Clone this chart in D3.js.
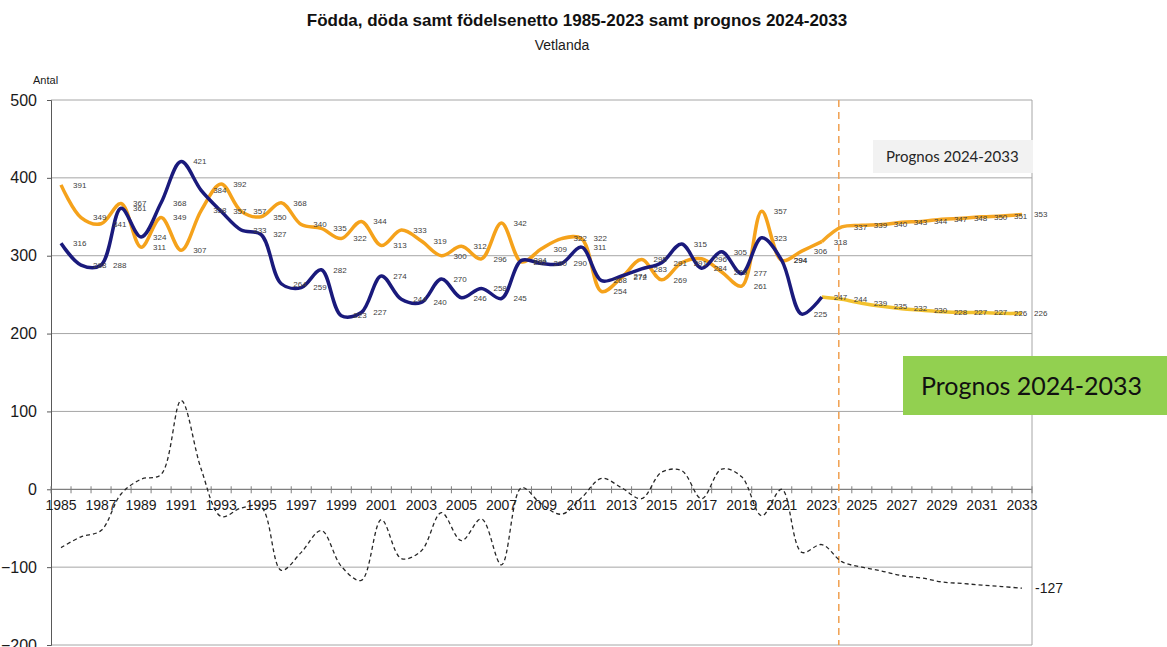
<!DOCTYPE html>
<html>
<head>
<meta charset="utf-8">
<script src="https://d3js.org/d3.v7.min.js"></script>
<style>
  html, body { margin: 0; padding: 0; background: #fff; }
  svg { display: block; }
</style>
</head>
<body>
<svg id="chart"></svg>
<script>
// Years on the x axis (1985-2033)
const years = d3.range(1985, 2034);
const histYears = d3.range(1985, 2024);
const progYears = d3.range(2023, 2034);

// Födda (births) 1985-2023
const fodda = [316, 288, 288, 361, 324, 368, 421, 384, 357, 333, 327, 264, 259, 282, 223, 227, 274, 244, 240, 270,
  246, 258, 245, 294, 290, 290, 311, 268, 274, 283, 291, 315, 284, 305, 277, 323, 294, 225, 247];
// Döda (deaths) 1985-2023
const doda = [391, 349, 341, 367, 311, 349, 307, 358, 392, 357, 350, 368, 340, 335, 322, 344, 313, 333, 319, 300,
  312, 296, 342, 292, 309, 322, 322, 254, 272, 295, 269, 291, 296, 279, 261, 357, 294, 306, 318];
// Prognos 2024-2033
const foddaProg = [244, 239, 235, 232, 230, 228, 227, 227, 226, 226];
const dodaProg = [337, 339, 340, 343, 344, 347, 348, 350, 351, 353];
// Födelsenetto 1985-2033
const netto = [-75, -61, -53, -6, 13, 19, 114, 26, -35, -24, -23, -104, -81, -53, -99, -117, -39, -89, -79, -30,
  -66, -38, -97, 2, -19, -32, -11, 14, 2, -12, 22, 24, -12, 26, 16, -34, 0, -81, -71,
  -93, -100, -105, -111, -114, -119, -121, -123, -125, -127];

const yTicks = [500, 400, 300, 200, 100, 0, -100, -200];

const width = 1167;
const height = 647;
const plot = { left: 51, right: 1032, top: 100, bottom: 645 };
const font = "Arial, 'Liberation Sans', sans-serif";

const svg = d3.select("#chart").attr("width", width).attr("height", height)
  .style("font-family", font);

/*
 * Scales
 */
const x = d3.scaleBand().domain(years).range([plot.left, plot.right]).padding(0);
const cx = (yr) => x(yr) + x.bandwidth() / 2;
const y = d3.scaleLinear().domain([-200, 500]).range([plot.bottom, plot.top]);

/*
 * Titles
 */
svg.append("text")
  .attr("x", 577).attr("y", 26)
  .attr("text-anchor", "middle")
  .style("font-size", "17px").style("font-weight", "bold")
  .attr("fill", "#111")
  .text("Födda, döda samt födelsenetto 1985-2023 samt prognos 2024-2033");

svg.append("text")
  .attr("x", 562).attr("y", 50)
  .attr("text-anchor", "middle")
  .style("font-size", "14px")
  .attr("fill", "#1a1a1a")
  .text("Vetlanda");

svg.append("text")
  .attr("x", 33).attr("y", 84)
  .style("font-size", "11px")
  .attr("fill", "#1a1a1a")
  .text("Antal");

/*
 * Grid + axes
 */
svg.append("g").selectAll("line")
  .data(yTicks)
  .enter().append("line")
  .attr("x1", plot.left).attr("x2", plot.right)
  .attr("y1", (d) => y(d)).attr("y2", (d) => y(d))
  .attr("stroke", (d) => d === 0 ? "#7f7f7f" : "#a6a6a6")
  .attr("stroke-width", (d) => d === 0 ? 1.3 : 1);

// right border
svg.append("line")
  .attr("x1", plot.right).attr("x2", plot.right)
  .attr("y1", plot.top).attr("y2", plot.bottom)
  .attr("stroke", "#a6a6a6");

const yAxis = svg.append("g")
  .attr("transform", `translate(${plot.left},0)`)
  .call(d3.axisLeft(y).tickValues(yTicks).tickSize(4).tickPadding(10).tickFormat(d3.format("d")));
yAxis.select(".domain").attr("stroke", "#595959");
yAxis.selectAll(".tick line").attr("stroke", "#595959");
yAxis.selectAll("text").style("font-size", "16px").style("font-family", font).attr("fill", "#1a1a1a");

// x axis on the zero line: year labels for odd years
const xAxis = svg.append("g")
  .attr("transform", `translate(0,${y(0)})`)
  .call(d3.axisBottom(x).tickValues(years.filter((d) => d % 2 === 1)).tickSize(0).tickPadding(11));
xAxis.select(".domain").remove();
xAxis.selectAll("text").style("font-size", "14px").style("font-family", font).attr("fill", "#1a1a1a");

// tick marks between the years
svg.append("g").selectAll("line")
  .data(years.concat([null]))
  .enter().append("line")
  .attr("x1", (d) => d === null ? plot.right : x(d))
  .attr("x2", (d) => d === null ? plot.right : x(d))
  .attr("y1", y(0) - 3).attr("y2", y(0) + 4)
  .attr("stroke", "#7f7f7f");

/*
 * Prognos marker
 */
svg.append("line")
  .attr("x1", cx(2024) - 3).attr("x2", cx(2024) - 3)
  .attr("y1", plot.top).attr("y2", plot.bottom)
  .attr("stroke", "#f0a050").attr("stroke-width", 1.5)
  .attr("stroke-dasharray", "7,5");

/*
 * Lines
 */
const line = d3.line()
  .x((d) => cx(d.year))
  .y((d) => y(d.value))
  .curve(d3.curveCatmullRom.alpha(0.5));

const zip = (yrs, vals) => yrs.map((yr, i) => ({ year: yr, value: vals[i] }));

const foddaData = zip(histYears, fodda);
const dodaData = zip(histYears, doda);
const foddaProgData = zip(progYears, [fodda[fodda.length - 1]].concat(foddaProg));
const dodaProgData = zip(progYears, [doda[doda.length - 1]].concat(dodaProg));
const nettoData = zip(years, netto);

svg.append("path").datum(nettoData)
  .attr("d", line).attr("fill", "none")
  .attr("stroke", "#262626").attr("stroke-width", 1.3)
  .attr("stroke-dasharray", "4,3");

svg.append("path").datum(dodaProgData)
  .attr("d", line).attr("fill", "none")
  .attr("stroke", "#f5a623").attr("stroke-width", 3.5);

svg.append("path").datum(foddaProgData)
  .attr("d", line).attr("fill", "none")
  .attr("stroke", "#f2c12e").attr("stroke-width", 3.5);

svg.append("path").datum(dodaData)
  .attr("d", line).attr("fill", "none")
  .attr("stroke", "#f5a21b").attr("stroke-width", 3.5);

svg.append("path").datum(foddaData)
  .attr("d", line).attr("fill", "none")
  .attr("stroke", "#1a1a7c").attr("stroke-width", 3.5);

/*
 * Data labels (to the right of each point)
 */
const labelData = dodaData.concat(foddaData, dodaProgData.slice(1), foddaProgData.slice(1));
svg.append("g").selectAll("text")
  .data(labelData)
  .enter().append("text")
  .attr("x", (d) => cx(d.year) + 12)
  .attr("y", (d) => y(d.value))
  .attr("dy", "0.35em")
  .style("font-size", "8px")
  .attr("fill", "#404040")
  .text((d) => d.value);

// last netto value
const lastNet = nettoData[nettoData.length - 1];
svg.append("text")
  .attr("x", cx(lastNet.year) + 13)
  .attr("y", y(lastNet.value))
  .attr("dy", "0.35em")
  .style("font-size", "14px")
  .attr("fill", "#1a1a1a")
  .text(lastNet.value);

/*
 * Boxes
 */
svg.append("rect")
  .attr("x", 873).attr("y", 140).attr("width", 160).attr("height", 33)
  .attr("fill", "#f2f2f2");
svg.append("text")
  .attr("x", 886).attr("y", 157).attr("dy", "0.35em")
  .style("font-family", "Lato, 'Open Sans', sans-serif").style("font-size", "15px")
  .attr("fill", "#262626")
  .text("Prognos 2024-2033");

svg.append("rect")
  .attr("x", 903).attr("y", 356).attr("width", 264).attr("height", 59)
  .attr("fill", "#92d050");
svg.append("text")
  .attr("x", 921).attr("y", 386).attr("dy", "0.35em")
  .style("font-family", "Lato, 'Open Sans', sans-serif").style("font-size", "25px")
  .attr("fill", "#111")
  .text("Prognos 2024-2033");
</script>
</body>
</html>
